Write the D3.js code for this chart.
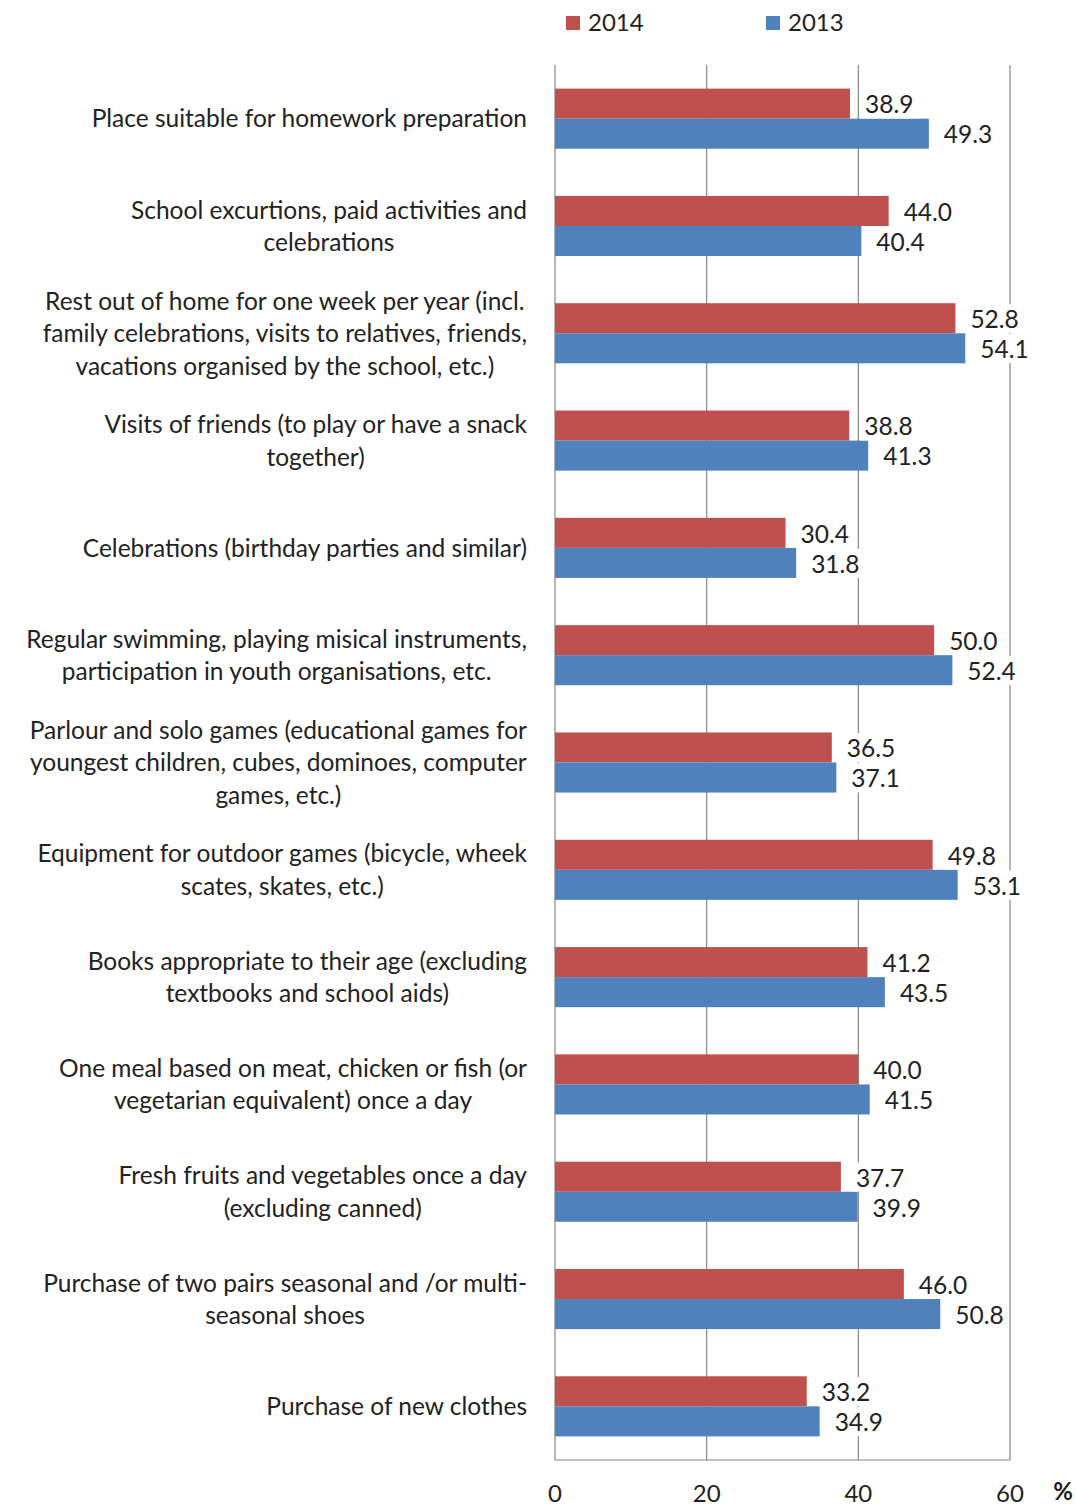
<!DOCTYPE html>
<html>
<head>
<meta charset="utf-8">
<script src="https://cdn.jsdelivr.net/npm/d3@7"></script>
<style>
  body { margin: 0; background: #fff; }
  text { font-family: Lato, "Open Sans", sans-serif; fill: #222; }
</style>
</head>
<body>
<svg></svg>
<script>
var width = 1076;
var height = 1506;

var categories = [
    ["Place suitable for homework preparation"],
    ["School excurtions, paid activities and", "celebrations"],
    ["Rest out of home for one week per year (incl.", "family celebrations, visits to relatives, friends,", "vacations organised by the school, etc.)"],
    ["Visits of friends (to play or have a snack", "together)"],
    ["Celebrations (birthday parties and similar)"],
    ["Regular swimming, playing misical instruments,", "participation in youth organisations, etc."],
    ["Parlour and solo games (educational games for", "youngest children, cubes, dominoes, computer", "games, etc.)"],
    ["Equipment for outdoor games (bicycle, wheek", "scates, skates, etc.)"],
    ["Books appropriate to their age (excluding", "textbooks and school aids)"],
    ["One meal based on meat, chicken or fish (or", "vegetarian equivalent) once a day"],
    ["Fresh fruits and vegetables once a day", "(excluding canned)"],
    ["Purchase of two pairs seasonal and /or multi-", "seasonal shoes"],
    ["Purchase of new clothes"]
];
var values2014 = [38.9, 44.0, 52.8, 38.8, 30.4, 50.0, 36.5, 49.8, 41.2, 40.0, 37.7, 46.0, 33.2];
var values2013 = [49.3, 40.4, 54.1, 41.3, 31.8, 52.4, 37.1, 53.1, 43.5, 41.5, 39.9, 50.8, 34.9];
var seriesNames = ["2014", "2013"];
var seriesColors = ["#C0504D", "#4F81BD"];
var xTicks = [0, 20, 40, 60];

var plotLeft = 555, plotRight = 1010, plotTop = 65, plotBottom = 1460;
var fs = "24.5px";

var xScale = d3.scaleLinear()
    .domain([0, 60])
    .range([plotLeft, plotRight]);

var yScale = d3.scaleBand()
    .domain(d3.range(categories.length))
    .range([plotTop, plotBottom])
    .paddingInner(0.44)
    .paddingOuter(0.22);

var subScale = d3.scaleBand()
    .domain([0, 1])
    .range([0, yScale.bandwidth()]);

var svg = d3.select("svg")
    .attr("width", width)
    .attr("height", height);

// gridlines
svg.append("g")
    .selectAll("line")
    .data(xTicks)
    .enter()
    .append("line")
        .attr("x1", d => xScale(d))
        .attr("x2", d => xScale(d))
        .attr("y1", plotTop)
        .attr("y2", plotBottom)
        .attr("stroke", "#868686")
        .attr("stroke-width", 1.2);

// bottom border
svg.append("line")
    .attr("x1", plotLeft).attr("x2", plotRight)
    .attr("y1", plotBottom).attr("y2", plotBottom)
    .attr("stroke", "#868686")
    .attr("stroke-width", 1.2);

var rows = categories.map((c, i) => ({ i: i, lines: c, v: [values2014[i], values2013[i]] }));

var groups = svg.append("g")
    .selectAll("g")
    .data(rows)
    .enter()
    .append("g")
        .attr("transform", d => "translate(0," + yScale(d.i) + ")");

// bars
groups.selectAll("rect.bar")
    .data(d => d.v.map((v, s) => ({ v: v, s: s })))
    .enter()
    .append("rect")
        .attr("class", "bar")
        .attr("x", xScale(0))
        .attr("y", d => subScale(d.s))
        .attr("width", d => xScale(d.v) - xScale(0))
        .attr("height", subScale.bandwidth())
        .attr("fill", d => seriesColors[d.s]);

// value labels with white box
var labels = groups.selectAll("g.lab")
    .data(d => d.v.map((v, s) => ({ v: v, s: s })))
    .enter()
    .append("g")
        .attr("class", "lab");

labels.append("text")
    .attr("x", d => xScale(d.v) + 15)
    .attr("y", d => subScale(d.s) + subScale.bandwidth() / 2 + 1)
    .attr("dy", "0.36em")
    .style("font-size", fs)
    .text(d => d3.format(".1f")(d.v));

labels.each(function() {
    var g = d3.select(this);
    var bb = g.select("text").node().getBBox();
    g.insert("rect", "text")
        .attr("x", bb.x - 4)
        .attr("y", bb.y)
        .attr("width", bb.width + 8)
        .attr("height", bb.height)
        .attr("fill", "#fff");
});

// category labels, lines centred in a block that is right aligned
var lineH = 32.5;
groups.each(function(d) {
    var g = d3.select(this);
    var t = g.append("text")
        .style("font-size", fs)
        .attr("text-anchor", "middle");
    var mid = yScale.bandwidth() / 2 - (d.lines.length - 1) * lineH / 2;
    d.lines.forEach((ln, k) => {
        t.append("tspan")
            .attr("y", mid + k * lineH)
            .attr("dy", "0.36em")
            .text(ln);
    });
    var maxW = d3.max(t.selectAll("tspan").nodes(), n => n.getComputedTextLength());
    t.selectAll("tspan").attr("x", 527 - maxW / 2);
});

// x tick labels
svg.append("g")
    .selectAll("text")
    .data(xTicks)
    .enter()
    .append("text")
        .attr("x", d => xScale(d))
        .attr("y", 1502)
        .style("text-anchor", "middle")
        .style("font-size", "24px")
        .text(d => d);

svg.append("text")
    .attr("x", 1063)
    .attr("y", 1500)
    .style("text-anchor", "middle")
    .style("font-size", "24px")
    .style("font-weight", "bold")
    .text("%");

// legend
var legend = svg.append("g")
    .selectAll("g")
    .data(seriesNames)
    .enter()
    .append("g")
        .attr("transform", (d, i) => "translate(" + (566 + i * 200) + ",0)");

legend.append("rect")
    .attr("x", 0)
    .attr("y", 16)
    .attr("width", 14)
    .attr("height", 14)
    .attr("fill", (d, i) => seriesColors[i]);

legend.append("text")
    .attr("x", 22)
    .attr("y", 31)
    .style("font-size", "24px")
    .text(d => d);
</script>
</body>
</html>
